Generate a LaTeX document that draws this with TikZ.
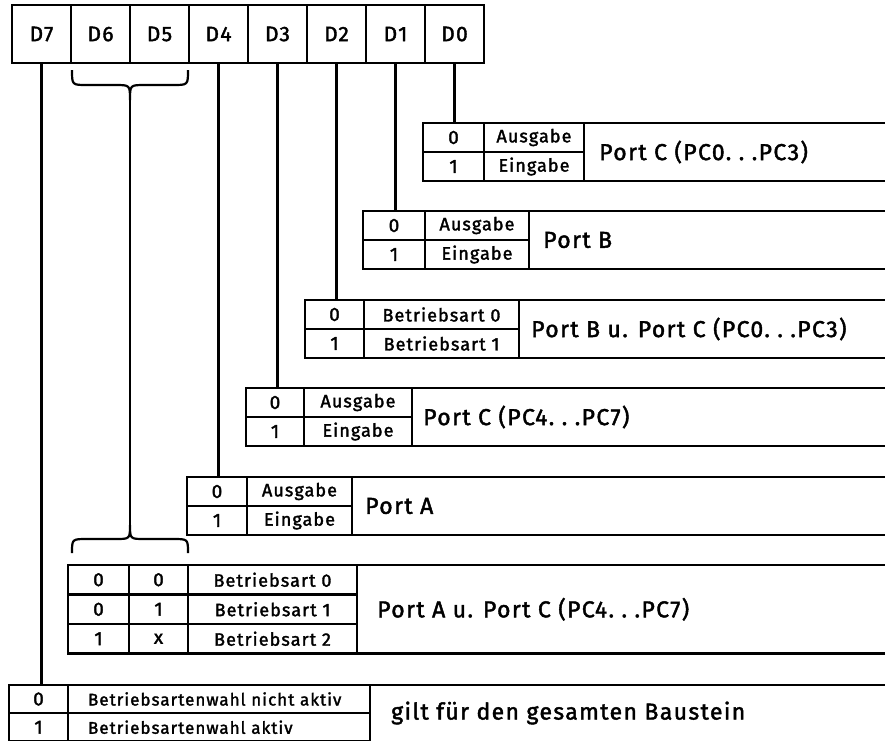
\documentclass[tikz,border=0pt]{standalone}
\usepackage{fontspec}
\setmainfont{Fira Sans}[LetterSpace=6, FakeBold=1.8]
\usetikzlibrary{positioning}

\tikzset{
  wire/.style={line width=2.2pt},
  cell/.style={draw, line width=2.2pt, inner sep=0pt, outer sep=0pt,
    anchor=north west, minimum height=29pt, minimum width=#1},
  bitbox/.style={cell=59pt, minimum height=58pt, font=\fontsize{21}{21}\selectfont},
  code/.style={font=\fontsize{19}{19}\selectfont},
  mode/.style={font=\fontsize{18}{18}\selectfont},
  msgcell/.style={cell=302pt, align=left, text width=282pt, inner xsep=10pt,
    font=\fontsize{17}{17}\selectfont},
  portlabel/.style={anchor=west, inner sep=0pt, font=\fontsize{23}{23}\selectfont},
}

\begin{document}
\begin{tikzpicture}[x=1pt, y=-1pt]
  \useasboundingbox (0,0) rectangle (885,740);
  \coordinate (rim) at (885,0);

  % Control word D7 ... D0
  \foreach \b in {7,...,0}
    \node[bitbox] (d\b) at ({12+59*(7-\b)},5) {D\b};

  % D0: Port C (PC0...PC3)
  \node[cell=61pt, code] (pcl-a0) at (423,123) {0};
  \node[cell=100pt, mode, right=0pt of pcl-a0] (pcl-b0) {Ausgabe};
  \node[cell=61pt, code, below=0pt of pcl-a0] (pcl-a1) {1};
  \node[cell=100pt, mode, below=0pt of pcl-b0] (pcl-b1) {Eingabe};
  \node[portlabel, right=15pt of pcl-b0.south east] (pcl) {Port C (PC0.\ .\ .PC3)};
  \draw[wire] (pcl-b0.north east) -- (pcl-b0.north east -| rim)
              (pcl-b1.south east) -- (pcl-b1.south east -| rim);
  \draw[wire] (d0.south) -- (d0.south |- pcl-a0.north);

  % D1: Port B
  \node[cell=62pt, code] (pb-a0) at (363,211) {0};
  \node[cell=104pt, mode, right=0pt of pb-a0] (pb-b0) {Ausgabe};
  \node[cell=62pt, code, below=0pt of pb-a0] (pb-a1) {1};
  \node[cell=104pt, mode, below=0pt of pb-b0] (pb-b1) {Eingabe};
  \node[portlabel, right=14pt of pb-b0.south east] (pb) {Port B};
  \draw[wire] (pb-b0.north east) -- (pb-b0.north east -| rim)
              (pb-b1.south east) -- (pb-b1.south east -| rim);
  \draw[wire] (d1.south) -- (d1.south |- pb-a0.north);

  % D2: Betriebsart Gruppe B
  \node[cell=59pt, code] (grpb-a0) at (305,300) {0};
  \node[cell=155pt, mode, right=0pt of grpb-a0] (grpb-b0) {Betriebsart 0};
  \node[cell=59pt, code, below=0pt of grpb-a0] (grpb-a1) {1};
  \node[cell=155pt, mode, below=0pt of grpb-b0] (grpb-b1) {Betriebsart 1};
  \node[portlabel, right=12pt of grpb-b0.south east] (grpb) {Port B u. Port C (PC0.\ .\ .PC3)};
  \draw[wire] (grpb-b0.north east) -- (grpb-b0.north east -| rim)
              (grpb-b1.south east) -- (grpb-b1.south east -| rim);
  \draw[wire] (d2.south) -- (d2.south |- grpb-a0.north);

  % D3: Port C (PC4...PC7)
  \node[cell=58pt, code] (pcu-a0) at (246,388) {0};
  \node[cell=108pt, mode, right=0pt of pcu-a0] (pcu-b0) {Ausgabe};
  \node[cell=58pt, code, below=0pt of pcu-a0] (pcu-a1) {1};
  \node[cell=108pt, mode, below=0pt of pcu-b0] (pcu-b1) {Eingabe};
  \node[portlabel, right=11pt of pcu-b0.south east] (pcu) {Port C (PC4.\ .\ .PC7)};
  \draw[wire] (pcu-b0.north east) -- (pcu-b0.north east -| rim)
              (pcu-b1.south east) -- (pcu-b1.south east -| rim);
  \draw[wire] (d3.south) -- (d3.south |- pcu-a0.north);

  % D4: Port A
  \node[cell=60pt, code] (pa-a0) at (187,477) {0};
  \node[cell=105pt, mode, right=0pt of pa-a0] (pa-b0) {Ausgabe};
  \node[cell=60pt, code, below=0pt of pa-a0] (pa-a1) {1};
  \node[cell=105pt, mode, below=0pt of pa-b0] (pa-b1) {Eingabe};
  \node[portlabel, right=13pt of pa-b0.south east] (pa) {Port A};
  \draw[wire] (pa-b0.north east) -- (pa-b0.north east -| rim)
              (pa-b1.south east) -- (pa-b1.south east -| rim);
  \draw[wire] (d4.south) -- (d4.south |- pa-a0.north);

  % D6, D5: Betriebsart Gruppe A
  \foreach \r/\u/\v/\m in {0/0/0/Betriebsart 0, 1/0/1/Betriebsart 1, 2/1/x/Betriebsart 2} {
    \node[cell=61pt, code, minimum height=29.5pt] (grpa-a\r) at (68,{565+29.5*\r}) {\u};
    \node[cell=59pt, code, minimum height=29.5pt, right=0pt of grpa-a\r] (grpa-b\r) {\v};
    \node[cell=169pt, mode, minimum height=29.5pt, right=0pt of grpa-b\r] (grpa-c\r) {\m};
  }
  \node[portlabel, right=20pt of grpa-c1.east] (grpa) {Port A u. Port C (PC4.\ .\ .PC7)};
  \draw[wire] (grpa-c0.north east) -- (grpa-c0.north east -| rim)
              (grpa-c2.south east) -- (grpa-c2.south east -| rim);

  % braces for D6/D5
  \draw[wire] (72,70) .. controls (72,85) .. (87,85) -- (115,85)
              .. controls (130,85) .. (130,100) .. controls (130,85) .. (145,85)
              -- (173,85) .. controls (188,85) .. (188,70);
  \draw[wire] (72,553) .. controls (72,539) .. (87,539) -- (115,539)
              .. controls (130,539) .. (130,525) .. controls (130,539) .. (145,539)
              -- (173,539) .. controls (188,539) .. (188,553);
  \coordinate (modehi) at (130,100);
  \coordinate (modelo) at (130,525);
  \draw[wire] (modehi) -- (modelo);

  % D7: Betriebsartenwahl
  \node[cell=59pt, code, minimum height=28pt] (msel-a0) at (9,685) {0};
  \node[msgcell, minimum height=28pt, right=0pt of msel-a0] (msel-b0)
    {\hspace*{10pt}Betriebsartenwahl nicht aktiv};
  \node[cell=59pt, code, minimum height=28.5pt, below=0pt of msel-a0] (msel-a1) {1};
  \node[msgcell, minimum height=28.5pt, below=0pt of msel-b0] (msel-b1)
    {\hspace*{10pt}Betriebsartenwahl aktiv};
  \node[portlabel, right=21pt of msel-b0.south east] (msel) {gilt für den gesamten Baustein};
  \draw[wire] (msel-b0.north east) -- (msel-b0.north east -| rim);
  \draw[wire] (d7.south) -- (d7.south |- msel-a0.north);
\end{tikzpicture}
\end{document}
